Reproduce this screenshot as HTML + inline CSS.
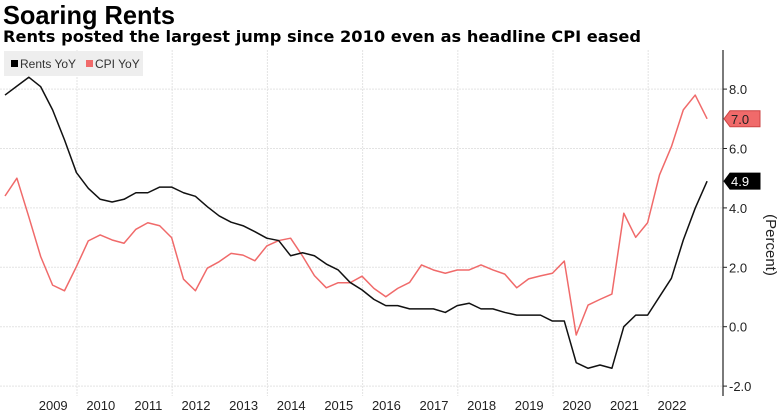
<!DOCTYPE html>
<html><head><meta charset="utf-8"><style>
body{margin:0;background:#fff;font-family:"Liberation Sans","DejaVu Sans",sans-serif;}
#wrap{position:relative;width:784px;height:414px;overflow:hidden;}
</style></head><body>
<div id="wrap">
<svg id="chart" width="784" height="414">
<text x="3" y="24" font-size="26" font-weight="bold" font-family="Liberation Sans, sans-serif" textLength="172" lengthAdjust="spacingAndGlyphs">Soaring Rents</text>
<text x="3" y="42" font-size="16" font-weight="bold" font-family="DejaVu Sans, sans-serif" textLength="638" lengthAdjust="spacingAndGlyphs">Rents posted the largest jump since 2010 even as headline CPI eased</text>
<g id="grid"></g><g id="axis"></g><g id="series"></g>
<g>
<rect x="4" y="51" width="139" height="25" fill="#eeeeee"/>
<rect x="11" y="60" width="7" height="7" fill="#000"/>
<text x="20" y="68" font-size="12" fill="#333">Rents YoY</text>
<rect x="86" y="60" width="7" height="7" fill="#f06a6a"/>
<text x="95" y="68" font-size="12" fill="#333">CPI YoY</text>
</g>
<text transform="translate(766,245) rotate(90)" font-size="15" text-anchor="middle" fill="#222">(Percent)</text>
</svg>
</div>
<script>
const rents=[7.8,8.1,8.4,8.08,7.3,6.29,5.19,4.66,4.29,4.2,4.29,4.51,4.51,4.7,4.7,4.51,4.39,4.04,3.73,3.52,3.4,
3.2,2.98,2.9,2.39,2.49,2.39,2.11,1.91,1.49,1.24,0.92,0.71,0.71,0.6,0.6,0.6,0.48,0.71,0.79,0.6,0.6,0.48,0.39,0.39,0.39,0.19,0.19,-1.21,
-1.4,-1.29,-1.4,0.0,0.39,0.39,1.01,1.63,2.92,3.99,4.9];
const cpi=[4.4,5.0,3.7,2.36,1.4,1.21,2.02,2.89,3.09,2.92,2.81,3.28,3.5,3.4,3.0,1.6,1.21,1.97,2.19,2.47,2.41,
2.22,2.72,2.9,2.98,2.38,1.72,1.31,1.48,1.48,1.7,1.29,1.01,1.29,1.49,2.08,1.91,1.8,1.91,1.91,2.08,1.91,1.77,1.31,1.61,1.71,1.8,2.21,-0.28,
0.73,0.92,1.1,3.82,3.01,3.5,5.11,6.06,7.3,7.8,7.0];
const yTicks=[8,6,4,2,0,-2];
const years=[2009,2010,2011,2012,2013,2014,2015,2016,2017,2018,2019,2020,2021,2022];
const gridYears=[2010,2012,2014,2016,2018,2020,2022];
const NS='http://www.w3.org/2000/svg';
const xi=i=>5+i*11.9;
const xt=t=>77+(t-2010)*47.6;
const y=v=>326.7-v*29.7;
function mk(tag,attrs,parent){const e=document.createElementNS(NS,tag);for(const k in attrs)e.setAttribute(k,attrs[k]);parent.appendChild(e);return e;}
const grid=document.getElementById('grid'),axis=document.getElementById('axis'),ser=document.getElementById('series');
yTicks.forEach(v=>{
 const l=mk('line',{x1:0,x2:723,y1:y(v),y2:y(v),stroke:'#e3e3e3','stroke-dasharray':'2,1'},grid);
 
 
 const t=mk('line',{x1:723,x2:727,y1:y(v),y2:y(v),stroke:'#222'},axis);
 
 
 const tx=mk('text',{x:729,y:y(v)+5,'font-size':13,fill:'#222'},axis);
 tx.textContent=v.toFixed(1);
 
 
});
gridYears.forEach(g=>{
 const l=mk('line',{x1:xt(g),x2:xt(g),y1:50,y2:396,stroke:'#e3e3e3','stroke-dasharray':'2,1'},grid);
 
 
});
years.forEach(yr=>{
 const tx=mk('text',{x:xt(yr+0.5),y:410,'font-size':13,'text-anchor':'middle',fill:'#222'},axis);
 tx.textContent=yr;
 
 
});
const ax=mk('line',{x1:723,x2:723,y1:50,y2:396,stroke:'#222','stroke-width':1.2},axis);


function line(data,color,name){
 const p=mk('polyline',{points:data.map((v,i)=>xi(i)+','+y(v)).join(' '),fill:'none',stroke:color,'stroke-width':1.5,'stroke-linejoin':'round'},ser);
 
 
}
line(cpi,'#f06a6a','cpi-line');
line(rents,'#111','rents-line');
function tag(v,bg,fg,name){
 const yy=y(v);
 const p=mk('polygon',{points:`724,${yy} 730,${yy-8} 760,${yy-8} 760,${yy+8} 730,${yy+8}`,fill:bg,stroke:bg==='#000'?'#000':'#c44'},axis);
 
 
 const t=mk('text',{x:731,y:yy+5,'font-size':13,fill:fg},axis);
 t.textContent=v.toFixed(1);
 
 
}
tag(cpi[cpi.length-1],'#f06a6a','#222','cpi-last-value-tag');
tag(rents[rents.length-1],'#000','#fff','rents-last-value-tag');
</script>
</body></html>
